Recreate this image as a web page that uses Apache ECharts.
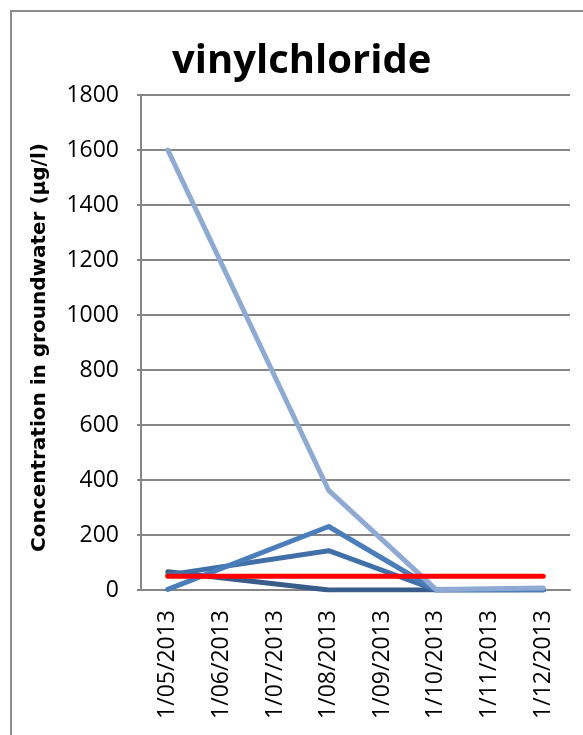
<!DOCTYPE html>
<html>
<head>
<meta charset="utf-8">
<script src="https://cdn.jsdelivr.net/npm/echarts@6/dist/echarts.min.js"></script>
<style>
  html, body { margin: 0; padding: 0; background: #ffffff; }
  #chart { width: 583px; height: 735px; }
</style>
</head>
<body>
<div id="chart"></div>
<script>
// Sampling dates (first of each month)
const dates = ['1/05/2013', '1/06/2013', '1/07/2013', '1/08/2013', '1/09/2013', '1/10/2013', '1/11/2013', '1/12/2013'];

// Vinyl chloride concentrations per monitoring well (µg/l); null = not sampled
const wellA = [66, null, null, 0, null, 0, null, 0];
const wellB = [55, null, null, 143, null, 0, null, 0];
const wellC = [2, null, null, 231, null, 0, null, 2];
const wellD = [1600, null, null, 362, null, 2, null, 7];

// Groundwater quality standard
const standard = [50, 50, 50, 50, 50, 50, 50, 50];

const yTicks = { min: 0, max: 1800, step: 200 };

const chart = echarts.init(document.getElementById('chart'), null, { renderer: 'canvas' });

function well(data, color, z) {
  return {
    type: 'line',
    data: data,
    connectNulls: true,
    showSymbol: false,
    symbol: 'none',
    z: z,
    lineStyle: { color: color, width: 5, cap: 'round', join: 'round' },
    animation: false
  };
}

const font = '"Open Sans", "Liberation Sans", sans-serif';

chart.setOption({
  backgroundColor: '#ffffff',
  animation: false,
  graphic: [{
    type: 'rect',
    shape: { x: 11, y: 11, width: 700, height: 900 },
    style: { fill: 'none', stroke: '#8c8c8c', lineWidth: 2 },
    silent: true,
    z: -10
  }],
  title: {
    text: 'vinylchloride',
    left: 167,
    top: 37,
    textStyle: { fontFamily: font, fontWeight: 'bold', fontSize: 40, color: '#000000' }
  },
  grid: { left: 141, top: 95, right: 13, bottom: 145, containLabel: false },
  xAxis: {
    type: 'category',
    data: dates,
    boundaryGap: true,
    axisLine: { lineStyle: { color: '#868686', width: 2 } },
    axisTick: { show: false },
    axisLabel: { rotate: 90, margin: 20, fontFamily: font, fontSize: 23, color: '#000000', interval: 0 },
    splitLine: { show: false }
  },
  yAxis: {
    type: 'value',
    min: yTicks.min,
    max: yTicks.max,
    interval: yTicks.step,
    name: 'Concentration in groundwater (µg/l)',
    nameLocation: 'middle',
    nameGap: 91,
    nameTextStyle: { fontFamily: '"DejaVu Sans", sans-serif', fontWeight: 'bold', fontSize: 20, color: '#000000', padding: [0, 10, 0, 0] },
    axisLine: { show: true, lineStyle: { color: '#868686', width: 2 } },
    axisTick: { show: true, length: 4, lineStyle: { color: '#868686', width: 2 } },
    axisLabel: { margin: 22, fontFamily: font, fontSize: 23, color: '#000000', formatter: v => String(v) },
    splitLine: { show: true, lineStyle: { color: '#868686', width: 2 } }
  },
  series: [
    well(wellA, '#385d8a', 2),
    well(wellB, '#4170a8', 3),
    well(wellC, '#4a7ebb', 4),
    well(wellD, '#8eaad4', 5),
    well(standard, '#ff0000', 6)
  ]
});
</script>
</body>
</html>
